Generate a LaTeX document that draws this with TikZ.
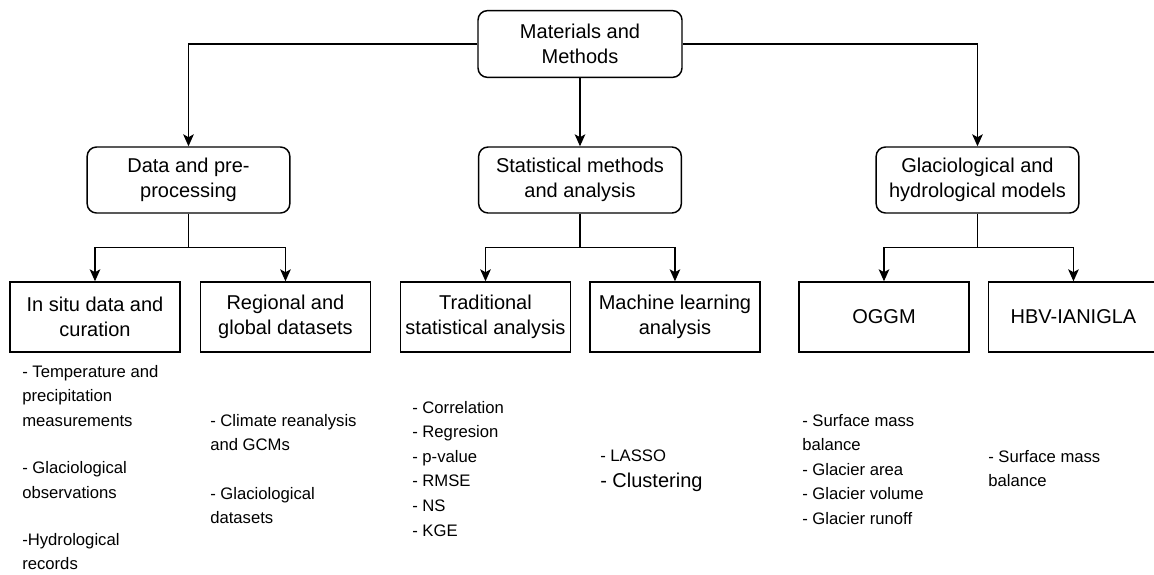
\documentclass[tikz,border=0pt]{standalone}
\usepackage{fontspec}
\setmainfont{Liberation Sans}
\usetikzlibrary{arrows.meta, positioning}

\begin{document}
\begin{tikzpicture}[
    x=0.75pt, y=-0.75pt,
    font=\fontsize{15}{18.75}\selectfont,
    topbox/.style={draw, line width=1.1pt, rounded corners=7pt, align=center,
                   minimum width=153pt, minimum height=50pt, inner sep=2pt},
    groupbox/.style={topbox, minimum width=152pt, minimum height=49.5pt},
    leafbox/.style={draw, line width=1.1pt, align=center, inner sep=1pt,
                    minimum width=127.5pt, minimum height=52.5pt},
    itemlist/.style={anchor=north west, align=left, inner sep=0pt,
                     font=\fontsize{12.5}{18.4}\selectfont},
    flow/.style={-{Stealth[length=9pt, width=8pt, inset=2.2pt]}, line width=0.9pt},
    link/.style={line width=0.9pt},
]
\useasboundingbox (0,0) rectangle (1154,575);

% --- nivel superior ---
\node[topbox] (mm) at (580,44) {Materials and\\Methods};

% --- tres bloques principales ---
\node[groupbox] (data)   at (188.5,180) {Data and pre-\\processing};
\node[groupbox] (stats)  at (580,180)   {Statistical methods\\and analysis};
\node[groupbox] (models) at (977.5,180) {Glaciological and\\hydrological models};

% --- sub-bloques ---
\node[leafbox] (insitu) at (95,317) {In situ data and\\curation};
\node[leafbox, right=14.25pt of insitu] (regional) {Regional and\\global datasets};
\node[leafbox] (tradstat) at (485.5,317) {Traditional\\statistical analysis};
\node[leafbox, right=13.5pt of tradstat] (mlearn) {Machine learning\\analysis};
\node[leafbox] (oggm) at (884,317) {OGGM};
\node[leafbox, right=13.5pt of oggm] (hbv) {HBV-IANIGLA};

% --- flechas ---
\draw[flow] (mm.west) -| (data.north);
\draw[flow] (mm.south) -- (stats.north);
\draw[flow] (mm.east) -| (models.north);
\foreach \grp/\lft/\rgt in {data/insitu/regional, stats/tradstat/mlearn, models/oggm/hbv}{
    \coordinate (\grp-split) at ([yshift=-25.5pt]\grp.south);
    \draw[link] (\grp.south) -- (\grp-split);
    \draw[flow] (\grp-split) -| (\lft.north);
    \draw[flow] (\grp-split) -| (\rgt.north);
}

% --- listas de contenidos ---
\node[itemlist] (insitulist) at (22,365)
    {- Temperature and\\precipitation\\measurements\\[17pt]- Glaciological\\observations\\[17pt]-Hydrological\\records};
\node[itemlist] (regionallist) at (210,414)
    {- Climate reanalysis\\and GCMs\\[18pt]- Glaciological\\datasets};
\node[itemlist] (tradlist) at (412,401)
    {- Correlation\\- Regresion\\- p-value\\- RMSE\\- NS\\- KGE};
\node[itemlist] (mllist) at (600,450)
    {- LASSO\\[1pt]{\fontsize{15}{18.4}\selectfont - Clustering}};
\node[itemlist] (oggmlist) at (802,414)
    {- Surface mass\\balance\\- Glacier area\\- Glacier volume\\- Glacier runoff};
\node[itemlist] (hbvlist) at (988,450)
    {- Surface mass\\balance};

\end{tikzpicture}
\end{document}
